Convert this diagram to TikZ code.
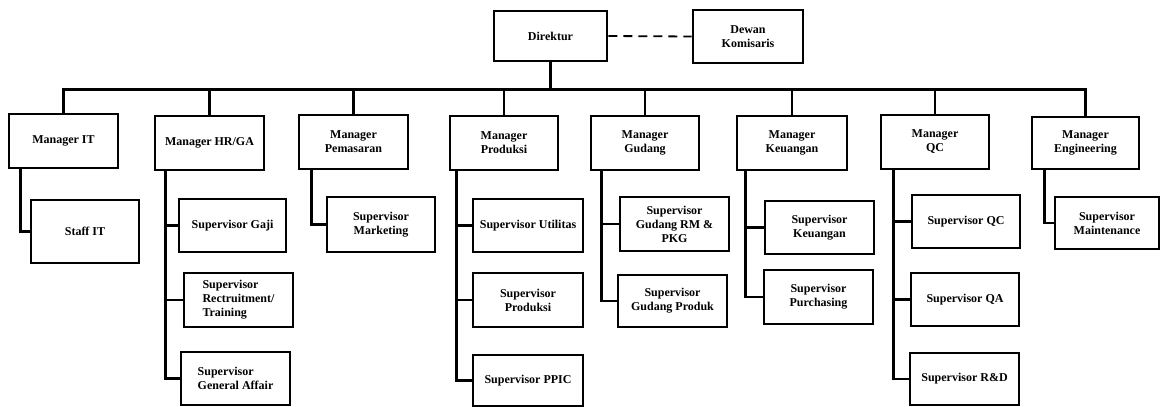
\documentclass[tikz,border=0pt]{standalone}
\usepackage{fontspec}
\setmainfont{Liberation Serif}
\usetikzlibrary{positioning}
\tikzset{
  box/.style={draw=black,line width=2.7pt,fill=white,inner sep=2pt,
    minimum width=108pt,minimum height=53pt,align=center,
    font=\bfseries\fontsize{12}{14}\selectfont},
  link/.style={draw=black,line width=2.7pt},
  dotlink/.style={draw=black,line width=1.8pt,dash pattern=on 9pt off 6pt},
}

\begin{document}
\begin{tikzpicture}[x=1pt,y=-1pt]
\useasboundingbox (0,0) rectangle (1160,407);
% top
\node[box,minimum width=113pt,minimum height=50pt] (dir) at (550.5,36) {Direktur};
\node[box,minimum width=110pt] (dewan) at (748,36.5) {Dewan\\Komisaris};
\draw[dotlink] (dir.east) -- (dewan.west);
\coordinate (bus) at (550.5,89.5);
% managers
\node[box,minimum width=109pt,minimum height=54pt] (mIT) at (63.5,141) {Manager IT};
\node[box,minimum width=109pt,minimum height=54pt] (mHR) at (209.5,143) {Manager HR/GA};
\node[box,minimum width=109pt,minimum height=54pt] (mPem) at (353.5,142) {Manager\\Pemasaran};
\node[box,minimum width=108pt,minimum height=54pt] (mProd) at (504,143) {Manager\\Produksi};
\node[box,minimum width=108pt,minimum height=54pt] (mGud) at (645,143) {Manager\\Gudang};
\node[box,minimum width=110pt,minimum height=54pt] (mKeu) at (792,143) {Manager\\Keuangan};
\node[box,minimum width=108pt,minimum height=54pt] (mQC) at (935,142) {Manager\\QC};
\node[box,minimum width=107pt,minimum height=52pt] (mEng) at (1085.5,143) {Manager\\Engineering};
\foreach \m in {mIT,mHR,mPem,mProd,mGud,mKeu,mQC,mEng}
  \draw[link] (dir.south) -- (bus) -| (\m.north);
% supervisors
\node[box,minimum height=63pt] (sIT) at (85,231.5) {Staff IT};
\node[box,minimum width=107pt] (sGaji) at (232.5,225.5) {Supervisor Gaji};
\node[box,minimum width=109pt,minimum height=54pt,align=left] (sRekrut) at (238.5,300) {Supervisor\\Rectruitment/\\Training};
\node[box,minimum width=109pt,align=left] (sGA) at (235.5,378.5) {Supervisor\\General Affair};
\node[box,minimum height=55pt] (sMark) at (381,224.5) {Supervisor\\Marketing};
\node[box,minimum width=110pt] (sUtil) at (528,225.5) {Supervisor Utilitas};
\node[box,minimum width=110pt,minimum height=54pt] (sProd) at (528,300) {Supervisor\\Produksi};
\node[box,minimum width=110pt,minimum height=51pt] (sPPIC) at (528,380.5) {Supervisor PPIC};
\node[box,minimum width=109pt,minimum height=54pt] (sGudRM) at (674.5,224) {Supervisor\\Gudang RM \&\\PKG};
\node[box,minimum width=109pt,minimum height=52pt] (sGudProd) at (672.5,301) {Supervisor\\Gudang Produk};
\node[box,minimum width=109pt] (sKeu) at (819.5,227.5) {Supervisor\\Keuangan};
\node[box,minimum width=109pt,minimum height=54pt] (sPurch) at (818.5,297) {Supervisor\\Purchasing};
\node[box] (sQC) at (966,221.5) {Supervisor QC};
\node[box] (sQA) at (965,299.5) {Supervisor QA};
\node[box,minimum width=109pt,minimum height=52pt] (sRD) at (964.5,379) {Supervisor R\&D};
\node[box,minimum width=104pt,minimum height=52pt] (sMaint) at (1107,223) {Supervisor\\Maintenance};
% links down
\draw[link] (mIT.south west) ++(13,0) |- (sIT.west);
\foreach \s in {sGaji,sRekrut,sGA}
  \draw[link] (mHR.south west) ++(12,0) |- (\s.west);
\draw[link] (mPem.south west) ++(14,0) |- (sMark.west);
\foreach \s in {sUtil,sProd,sPPIC}
  \draw[link] (mProd.south west) ++(8,0) |- (\s.west);
\foreach \s in {sGudRM,sGudProd}
  \draw[link] (mGud.south west) ++(12,0) |- (\s.west);
\foreach \s in {sKeu,sPurch}
  \draw[link] (mKeu.south west) ++(10,0) |- (\s.west);
\foreach \s in {sQC,sQA,sRD}
  \draw[link] (mQC.south west) ++(14,0) |- (\s.west);
\draw[link] (mEng.south west) ++(14,0) |- (sMaint.west);
\end{tikzpicture}
\end{document}
